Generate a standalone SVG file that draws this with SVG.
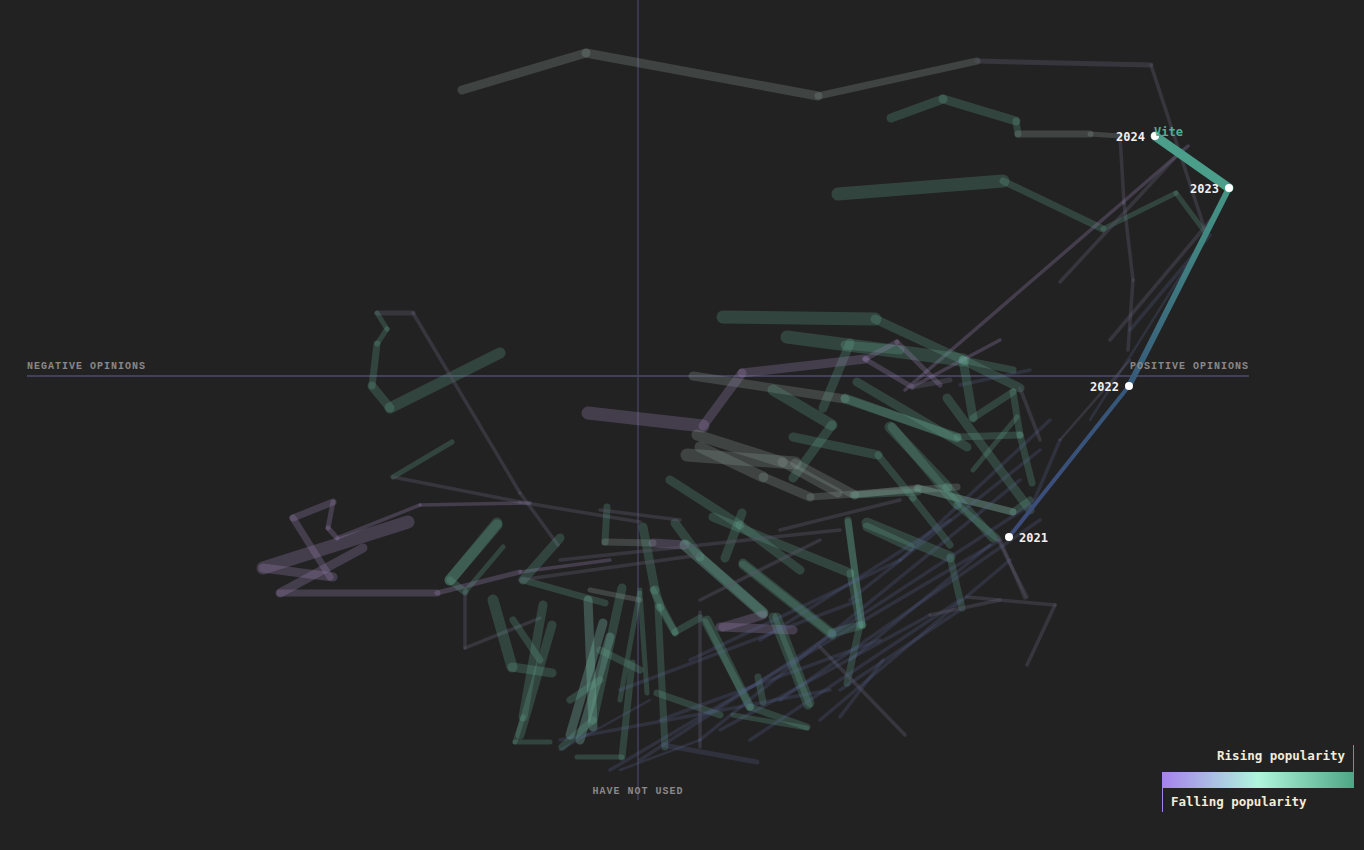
<svg xmlns="http://www.w3.org/2000/svg" width="1364" height="850" viewBox="0 0 1364 850">
<defs>
<style>
.bg{fill:#232223}
.s path{fill:none;stroke-linecap:round;stroke-linejoin:round}
.g{stroke:#5fa68e;stroke-opacity:.26}
.h{stroke:#7fc8b0;stroke-opacity:.3}
.p{stroke:#9a84b8;stroke-opacity:.28}
.w{stroke:#8a9a94;stroke-opacity:.28}
.b{stroke:#5a6a9a;stroke-opacity:.22}
.d{stroke:#5a5868;stroke-opacity:.38}
.a2{stroke-width:2.5}.a3{stroke-width:3.5}.a5{stroke-width:5}.a7{stroke-width:7}.a9{stroke-width:9}.a11{stroke-width:11}.a13{stroke-width:13}
.axis{stroke:#42405a;fill:none}
.lab{font-family:"Liberation Mono","DejaVu Sans Mono",monospace;font-weight:bold;font-size:10px;letter-spacing:1px;fill:#8a8888}
.yr{font-family:"DejaVu Sans Mono","Liberation Mono",monospace;font-weight:bold;font-size:12px;fill:#f4f0f0}
.leg{font-family:"DejaVu Sans Mono","Liberation Mono",monospace;font-weight:bold;font-size:12.5px;fill:#f3ecd8}
</style>
<linearGradient id="vg" gradientUnits="userSpaceOnUse" x1="1009" y1="537" x2="1229" y2="188">
<stop offset="0" stop-color="#3d4a7a"/>
<stop offset="0.45" stop-color="#36587a"/>
<stop offset="1" stop-color="#459684"/>
</linearGradient>
<linearGradient id="lg" x1="0" y1="0" x2="1" y2="0">
<stop offset="0" stop-color="#a681ec"/>
<stop offset="0.5" stop-color="#aff5dc"/>
<stop offset="1" stop-color="#4ea686"/>
</linearGradient>
</defs>
<rect class="bg" width="1364" height="850"/>

<g id="axes">
<path class="axis" d="M27 376H1249" stroke-width="2"/>
<path class="axis" d="M638 0V800" stroke-width="1.5" stroke="#46445e"/>
</g>

<g id="connectors" class="s">
<path class="w a9" d="M462 90L586 53"/>
<path class="w a9" d="M586 53L818 96"/>
<path class="w a7" d="M818 96L977 61"/>
<path class="d a5" d="M977 61L1151 65"/>
<path class="d a3" d="M1151 65L1205 230"/>
<path class="g a9" d="M891 118L943 99"/>
<path class="g a9" d="M943 99L1016 121"/>
<path class="g a7" d="M1016 121L1018 134"/>
<path class="w a7" d="M1018 134L1090 134"/>
<path class="w a5" d="M1090 134L1120 136"/>
<path class="d a3" d="M1120 136L1124 203"/>
<path class="d a3" d="M1124 203L1133 280"/>
<path class="d a3" d="M1133 280L1128 350"/>
<path class="g a13" d="M838 194L1003 181"/>
<path class="g a7" d="M1003 181L1103 229"/>
<path class="g a5" d="M1103 229L1176 193"/>
<path class="g a5" d="M1176 193L1205 232"/>
<path class="p a3" d="M905 390L1188 146"/>
<path class="d a3" d="M1060 282L1182 150"/>
<path class="d a3" d="M1110 340L1215 215"/>
<path class="b a3" d="M1130 330L1210 235"/>
<path class="d a2" d="M1060 440L1130 360"/>
<path class="b a2" d="M1090 420L1200 245"/>

<path class="d a5" d="M377 313L413 313"/>
<path class="g a5" d="M377 313L387 329"/>
<path class="g a5" d="M387 329L377 344"/>
<path class="g a7" d="M377 344L372 386"/>
<path class="g a9" d="M372 386L390 408"/>
<path class="g a11" d="M390 408L500 353"/>
<path class="d a3" d="M413 313L520 493"/>
<path class="d a3" d="M520 493L558 545"/>
<path class="g a5" d="M452 442L393 477"/>
<path class="d a3" d="M393 477L520 502"/>
<path class="d a3" d="M520 502L640 522"/>
<path class="p a7" d="M333 502L293 518"/>
<path class="p a7" d="M293 518L330 577"/>
<path class="p a5" d="M333 502L328 528"/>
<path class="p a5" d="M328 528L337 538"/>
<path class="p a3" d="M337 538L420 505"/>
<path class="p a3" d="M420 505L530 503"/>
<path class="p a13" d="M408 522L263 568"/>
<path class="p a9" d="M263 568L333 577"/>
<path class="p a9" d="M363 548L280 593"/>
<path class="p a7" d="M280 593L437 593"/>
<path class="p a5" d="M437 593L520 572"/>
<path class="p a3" d="M520 572L610 560"/>
<path class="g a11" d="M497 523L450 580"/>
<path class="g a7" d="M450 580L465 592"/>
<path class="g a5" d="M465 592L503 547"/>
<path class="d a3" d="M465 592L465 648"/>
<path class="d a3" d="M465 648L540 618"/>

<path class="g a13" d="M723 317L875 319"/>
<path class="g a9" d="M875 319L963 360"/>
<path class="g a7" d="M963 360L1013 370"/>
<path class="g a13" d="M787 337L963 360"/>
<path class="g a9" d="M963 360L1020 388"/>
<path class="g a9" d="M850 343L823 408"/>
<path class="g a9" d="M845 345L900 350"/>
<path class="w a9" d="M693 376L845 399"/>
<path class="g a9" d="M845 399L957 437"/>
<path class="g a7" d="M957 437L1020 435"/>
<path class="p a13" d="M588 413L703 426"/>
<path class="p a9" d="M703 426L742 373"/>
<path class="p a9" d="M742 373L865 359"/>
<path class="p a5" d="M865 359L897 342"/>
<path class="p a5" d="M865 359L912 387"/>
<path class="p a3" d="M912 387L1000 340"/>
<path class="d a5" d="M912 387L950 380"/>
<path class="p a5" d="M897 342L940 385"/>
<path class="b a3" d="M960 385L1030 370"/>
<path class="g a11" d="M773 390L832 425"/>
<path class="g a9" d="M832 425L793 478"/>
<path class="w a11" d="M697 435L782 462"/>
<path class="w a9" d="M782 462L838 493"/>
<path class="w a13" d="M687 455L795 463"/>
<path class="w a9" d="M795 463L855 495"/>
<path class="w a7" d="M855 495L918 488"/>
<path class="w a7" d="M918 488L1013 512"/>
<path class="w a11" d="M700 447L763 477"/>
<path class="w a9" d="M763 477L810 497"/>
<path class="w a7" d="M810 497L957 487"/>
<path class="g a9" d="M670 480L740 525"/>
<path class="g a9" d="M740 525L800 570"/>
<path class="g a9" d="M793 437L878 455"/>
<path class="g a7" d="M878 455L913 498"/>
<path class="g a7" d="M913 498L950 545"/>
<path class="g a11" d="M890 427L947 487"/>
<path class="g a9" d="M947 487L993 538"/>
<path class="g a11" d="M867 523L950 557"/>
<path class="g a7" d="M950 557L962 608"/>
<path class="g a9" d="M857 382L967 447"/>
<path class="g a9" d="M845 398L957 438"/>
<path class="g a9" d="M947 398L1030 510"/>
<path class="g a9" d="M892 427L957 505"/>
<path class="g a7" d="M957 505L997 538"/>
<path class="g a7" d="M973 418L1013 392"/>
<path class="g a7" d="M1013 392L1020 435"/>
<path class="g a7" d="M1020 435L1032 483"/>
<path class="g a5" d="M1017 417L973 470"/>
<path class="g a9" d="M963 360L973 418"/>
<path class="g a7" d="M853 495L918 492"/>
<path class="g a7" d="M848 522L862 625"/>
<path class="g a7" d="M917 488L1013 512"/>
<path class="g a7" d="M1013 512L1030 500"/>
<path class="d a3" d="M997 538L1027 597"/>
<path class="d a3" d="M967 597L1055 605"/>
<path class="d a3" d="M1055 605L1027 665"/>
<path class="d a3" d="M1000 540L1025 598"/>
<path class="d a3" d="M1020 388L1040 440"/>
<path class="b a3" d="M1030 510L1060 440"/>

<path class="g a11" d="M497 525L450 580"/>
<path class="g a9" d="M560 538L523 580"/>
<path class="g a7" d="M523 580L605 603"/>
<path class="g a11" d="M493 600L512 667"/>
<path class="g a9" d="M512 667L552 673"/>
<path class="g a9" d="M543 605L523 717"/>
<path class="g a5" d="M523 717L515 742"/>
<path class="g a5" d="M515 742L550 742"/>
<path class="g a9" d="M552 625L520 735"/>
<path class="h a9" d="M588 600L593 727"/>
<path class="h a9" d="M603 623L570 735"/>
<path class="h a9" d="M610 637L580 740"/>
<path class="g a9" d="M622 588L593 720"/>
<path class="g a7" d="M593 720L562 747"/>
<path class="g a7" d="M632 663L622 757"/>
<path class="g a5" d="M622 757L577 757"/>
<path class="g a7" d="M607 507L605 542"/>
<path class="w a7" d="M605 542L653 543"/>
<path class="p a9" d="M653 543L685 545"/>
<path class="g a9" d="M643 527L655 590"/>
<path class="g a9" d="M655 590L660 607"/>
<path class="g a7" d="M660 607L675 633"/>
<path class="h a11" d="M685 545L763 613"/>
<path class="g a9" d="M675 523L700 557"/>
<path class="g a9" d="M700 557L763 613"/>
<path class="g a9" d="M742 513L725 558"/>
<path class="g a9" d="M713 517L850 573"/>
<path class="g a9" d="M743 563L832 633"/>
<path class="g a9" d="M832 633L862 625"/>
<path class="g a7" d="M848 520L862 625"/>
<path class="g a9" d="M707 620L750 707"/>
<path class="g a7" d="M750 707L807 727"/>
<path class="g a9" d="M777 617L810 703"/>
<path class="p a9" d="M720 627L793 630"/>
<path class="p a9" d="M723 627L763 615"/>
<path class="g a7" d="M658 607L665 747"/>
<path class="g a7" d="M657 693L720 715"/>
<path class="g a9" d="M867 527L910 547"/>
<path class="g a9" d="M743 565L832 635"/>
<path class="g a9" d="M773 617L808 705"/>
<path class="g a7" d="M850 573L860 625"/>
<path class="g a7" d="M860 625L847 683"/>
<path class="g a7" d="M705 622L750 707"/>
<path class="d a3" d="M700 612L700 747"/>
<path class="g a7" d="M653 590L675 632"/>
<path class="g a7" d="M675 632L700 618"/>
<path class="g a5" d="M640 593L647 693"/>
<path class="b a5" d="M663 745L757 762"/>
<path class="g a5" d="M733 715L807 728"/>
<path class="g a7" d="M758 677L763 702"/>
<path class="d a3" d="M820 647L905 735"/>
<path class="b a3" d="M883 660L840 717"/>
<path class="g a7" d="M513 620L540 660"/>
<path class="w a5" d="M590 590L640 600"/>
<path class="g a5" d="M620 700L640 590"/>
<path class="g a7" d="M570 700L600 680"/>
<path class="g a7" d="M600 650L640 670"/>

<path class="b a3" d="M610 770L1000 540"/>
<path class="b a3" d="M640 760L1030 505"/>
<path class="b a3" d="M700 740L1020 480"/>
<path class="b a3" d="M750 740L960 600"/>
<path class="b a3" d="M820 720L1010 560"/>
<path class="b a3" d="M560 740L830 690"/>
<path class="b a3" d="M840 690L960 610"/>
<path class="b a3" d="M850 660L990 545"/>
<path class="b a3" d="M660 720L880 640"/>
<path class="b a3" d="M720 730L930 615"/>
<path class="b a3" d="M780 700L1040 520"/>
<path class="b a3" d="M620 690L860 600"/>
<path class="b a3" d="M690 660L900 560"/>
<path class="b a3" d="M760 640L950 520"/>
<path class="b a3" d="M850 600L1040 450"/>
<path class="b a3" d="M900 560L1050 420"/>
<path class="d a3" d="M560 560L840 530"/>
<path class="d a3" d="M520 580L700 555"/>
<path class="d a3" d="M600 510L680 520"/>
<path class="d a3" d="M780 530L900 500"/>
<path class="d a3" d="M700 600L820 540"/>
<path class="d a3" d="M930 615L1000 600"/>
<path class="b a2" d="M560 750L650 700"/>
<path class="b a2" d="M620 770L700 740"/>
</g>

<g id="vite" class="s">
<path d="M1009 537L1129 386" stroke="url(#vg)" stroke-width="4" fill="none" stroke-linecap="round"/>
<path d="M1129 386L1229 188" stroke="url(#vg)" stroke-width="6" fill="none" stroke-linecap="round"/>
<path d="M1229 188L1155 136" stroke="#4a9e8a" stroke-width="9" fill="none" stroke-linecap="round"/>
<circle cx="1009" cy="537" r="4" fill="#fff"/>
<circle cx="1129" cy="386" r="4" fill="#fff"/>
<circle cx="1229" cy="188" r="4" fill="#fff"/>
<circle cx="1155" cy="136" r="4" fill="#fff"/>
<text class="yr" x="1019" y="542">2021</text>
<text class="yr" x="1119" y="391" text-anchor="end">2022</text>
<text class="yr" x="1219" y="193" text-anchor="end">2023</text>
<text class="yr" x="1145" y="141" text-anchor="end">2024</text>
<text x="1154" y="136" font-family="DejaVu Sans Mono, Liberation Mono, monospace" font-size="12" font-weight="bold" fill="#52ad95">Vite</text>
</g>

<g id="axis-labels">
<text class="lab" x="27" y="369">NEGATIVE OPINIONS</text>
<text class="lab" x="1249" y="369" text-anchor="end">POSITIVE OPINIONS</text>
<text class="lab" x="638" y="794" text-anchor="middle">HAVE NOT USED</text>
</g>

<g id="legend">
<rect x="1162" y="772" width="192" height="16" fill="url(#lg)"/>
<path d="M1353.5 745V772" stroke="#4ea686" stroke-width="1"/>
<path d="M1162.5 788V812" stroke="#a681ec" stroke-width="1"/>
<text class="leg" x="1345" y="760" text-anchor="end">Rising popularity</text>
<text class="leg" x="1171" y="806">Falling popularity</text>
</g>
</svg>
